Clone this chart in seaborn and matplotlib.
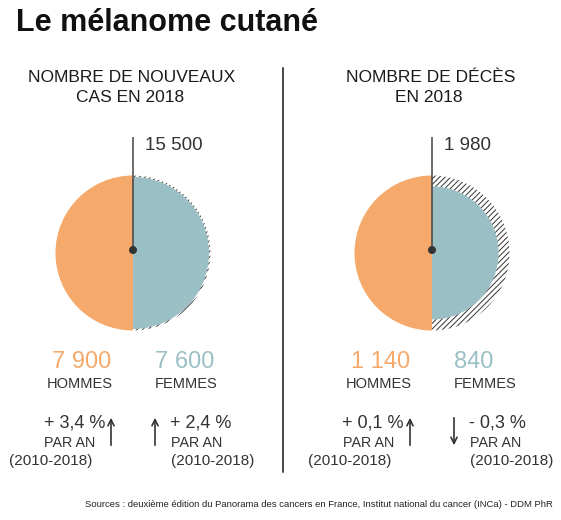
import numpy as np
import matplotlib.pyplot as plt
import seaborn as sns
from matplotlib.patches import Wedge, Circle

# data
panel_titles = ['NOMBRE DE NOUVEAUX\nCAS EN 2018', 'NOMBRE DE DÉCÈS\nEN 2018']
totals = ['15 500', '1 980']
hommes = [7900, 1140]
femmes = [7600, 840]
hommes_labels = ['7 900', '1 140']
femmes_labels = ['7 600', '840']
trend_hommes = [3.4, 0.1]
trend_femmes = [2.4, -0.3]

ORANGE = '#F5A96B'
BLUE = '#9ABFC5'
DARK = '#333333'

sns.set_theme(style='white')
plt.rcParams['font.family'] = ['Liberation Sans', 'DejaVu Sans']
plt.rcParams['hatch.linewidth'] = 0.7


def fmt_trend(v):
    sign = '+' if v >= 0 else '-'
    return f'{sign} {abs(v):.1f} %'.replace('.', ',')


def draw_trend(ax, x_arrow, x_text, value, side):
    # arrow pointing up or down depending on trend sign
    top, bottom = 415, 448
    start, end = (bottom, top) if value >= 0 else (top, bottom)
    ax.annotate('', xy=(x_arrow, end), xytext=(x_arrow, start),
                arrowprops=dict(arrowstyle='->', lw=1.2, color=DARK, mutation_scale=11))
    ha = 'right' if side == 'left' else 'left'
    off = 0 if side == 'left' else 1
    ax.text(x_text, 427, fmt_trend(value), ha=ha, va='baseline', fontsize=13, color=DARK)
    ax.text(x_text + (-10 if side == 'left' else 1), 447, 'PAR AN', ha=ha, va='baseline',
            fontsize=10.3, color=DARK)
    ax.text(x_text + (-13 if side == 'left' else 0) + off, 465, '(2010-2018)', ha=ha,
            va='baseline', fontsize=11, color=DARK)


fig = plt.figure(figsize=(5.61, 5.20), dpi=100)
ax = fig.add_axes([0, 0, 1, 1])
ax.set_xlim(0, 561)
ax.set_ylim(520, 0)
ax.axis('off')

ax.text(16, 31, 'Le mélanome cutané', fontsize=22, fontweight='bold', color='#111111',
        ha='left', va='baseline')

centers = [133, 432]
cy = 253
R = 77.5  # pixel radius of the "hommes" half disc

for i, cx in enumerate(centers):
    r_h = R * np.sqrt(hommes[i] / hommes[i])
    r_f = R * np.sqrt(femmes[i] / hommes[i])

    l1, l2 = panel_titles[i].split('\n')
    ax.text(cx - 1, 82.5, l1, ha='center', va='baseline', fontsize=12.5, color='#1a1a1a')
    ax.text(cx - 3, 102.5, l2, ha='center', va='baseline', fontsize=12.5, color='#1a1a1a')

    ax.add_patch(Wedge((cx, cy), r_h, 90, 270, facecolor=ORANGE, edgecolor='none'))
    ax.add_patch(Wedge((cx, cy), r_f, -90, 90, facecolor=BLUE, edgecolor='none'))
    # hatched ring = gap between femmes and hommes
    ax.add_patch(Wedge((cx, cy), r_h, -90, 90, width=r_h - r_f, fill=False,
                       hatch='//////', edgecolor=DARK, lw=0))

    ax.plot([cx, cx], [137, 250], color='#444444', lw=1.1, solid_capstyle='butt')
    ax.add_patch(Circle((cx, 250), 3.3, color=DARK, zorder=5))
    ax.text(cx + 12, 150, totals[i], ha='left', va='baseline', fontsize=13.5, color=DARK)

    ax.text(cx - 22, 368, hommes_labels[i], ha='right', va='baseline', fontsize=17, color=ORANGE)
    ax.text(cx + 22, 368, femmes_labels[i], ha='left', va='baseline', fontsize=17, color=BLUE)
    ax.text(cx - 20, 388, 'HOMMES', ha='right', va='baseline', fontsize=10.5, color=DARK)
    ax.text(cx + 22, 388, 'FEMMES', ha='left', va='baseline', fontsize=10.5, color=DARK)

    draw_trend(ax, cx - 22, cx - 28, trend_hommes[i], 'left')
    draw_trend(ax, cx + 22, cx + 37, trend_femmes[i], 'right')

# divider between the two panels
ax.plot([283, 283], [68, 472], color='#444444', lw=1.4)

ax.text(553, 507, 'Sources : deuxième édition du Panorama des cancers en France, '
        'Institut national du cancer (INCa) - DDM PhR',
        ha='right', va='baseline', fontsize=6.8, color='#222222')

fig.savefig('out.png', dpi=100)
